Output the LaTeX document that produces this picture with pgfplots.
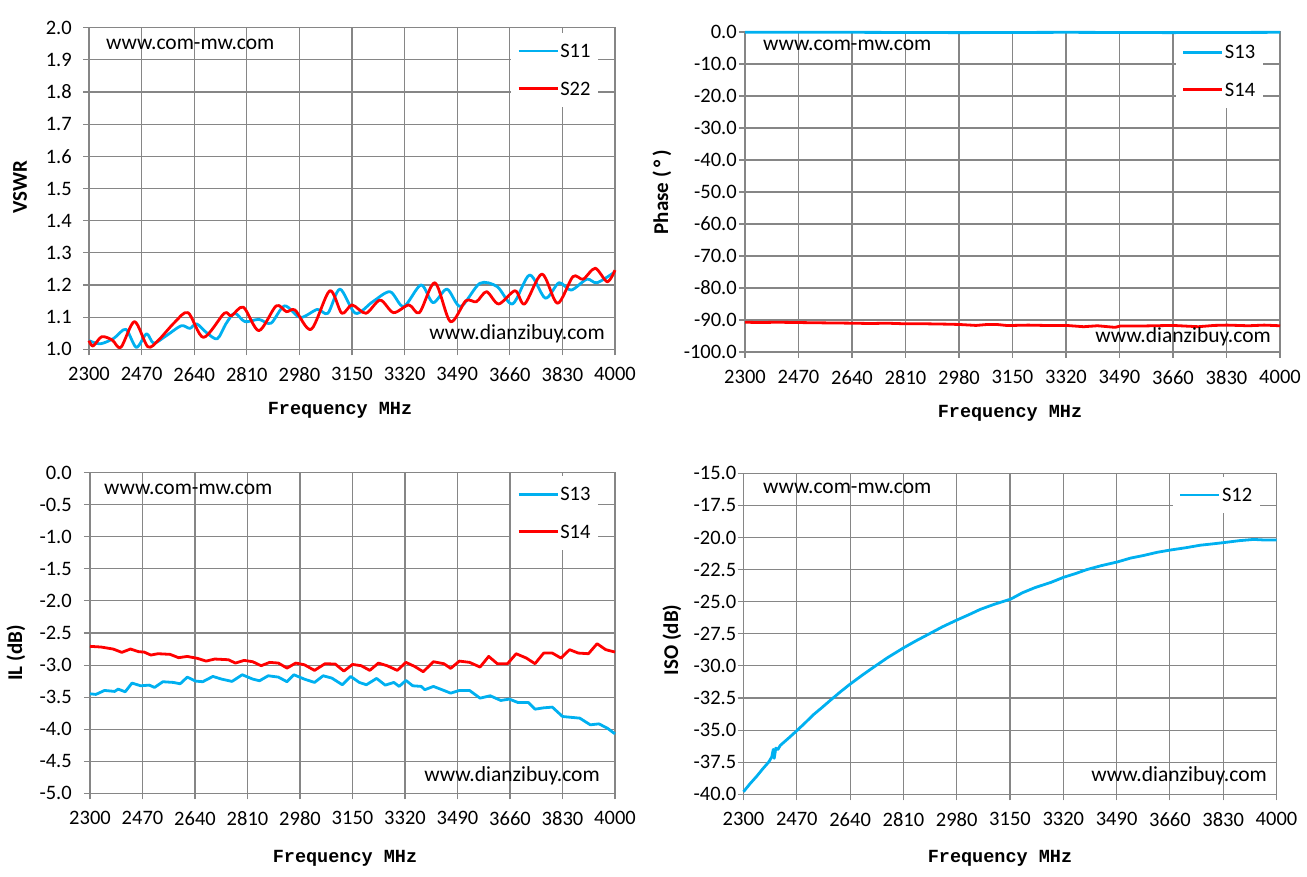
\documentclass[border=0pt]{standalone}
\usepackage{fontspec}
\setmainfont{Carlito}
\newfontfamily\monofont{Liberation Mono}
\usepackage{pgfplots}
\pgfplotsset{compat=1.18}
\definecolor{xlblue}{RGB}{0,176,240}
\definecolor{xlred}{RGB}{255,0,0}
\definecolor{gridgray}{RGB}{134,134,134}
\newcommand\wm{\fontsize{21.5}{26}\selectfont}
\newcommand\lab{\bfseries\fontsize{21}{25}\selectfont}
\newcommand\flab{\monofont\bfseries\fontsize{18.5}{22}\selectfont}
\pgfplotsset{
 panel/.style={
  scale only axis, anchor=south west,
  xmin=2300, xmax=4000,
  xtick={2300,2470,2640,2810,2980,3150,3320,3490,3660,3830,4000},
  grid=major,
  major grid style={gridgray, line width=1.1pt},
  axis line style={gridgray, line width=1.1pt},
  tick style={gridgray, line width=1.1pt},
  major tick length=6pt,
  tick align=outside,
  tick pos=left,
  scaled ticks=false,
  clip=false,
  tick label style={font=\fontsize{20.5}{24}\selectfont, inner sep=0pt, text=black},
  x tick label style={/pgf/number format/1000 sep={}, /pgf/number format/assume math mode=true, yshift=-12pt},
  y tick label style={/pgf/number format/fixed, /pgf/number format/fixed zerofill, /pgf/number format/precision=1, /pgf/number format/assume math mode=true},
  legend style={fill=white, draw=none, anchor=north east, font=\fontsize{20.5}{24}\selectfont,
    inner xsep=6pt, inner ysep=10pt, row sep=21pt, nodes={inner sep=1.5pt, text depth=0pt}},
  legend cell align=left,
  legend image code/.code={\draw[##1, line width=2.5pt] (0pt,0pt) -- (39pt,0pt);},
 },
 sline/.style={line width=2.8pt, line join=round},
}
\begin{document}
\begin{tikzpicture}
\path[use as bounding box] (0,0) rectangle (1307pt,876pt);

% ---------------- Top-left: VSWR ----------------
\begin{axis}[panel, at={(89pt,526.7pt)}, width=526pt, height=321.6pt,
  ymin=1, ymax=2, ytick={1,1.1,1.2,1.3,1.4,1.5,1.6,1.7,1.8,1.9,2},
  yticklabel style={xshift=-11pt},
  legend style={at={(axis description cs:0.968,0.984)}}]
\addplot[sline, xlblue, smooth] coordinates {
(2300,1.027)(2336,1.017)(2380,1.034)(2419,1.062)(2453,1.006)(2486,1.048)(2509,1.019)
(2548,1.041)(2598,1.073)(2626,1.065)(2648,1.079)(2682,1.05)(2715,1.033)(2743,1.08)
(2771,1.112)(2804,1.086)(2849,1.093)(2888,1.081)(2932,1.135)(2983,1.099)(3038,1.124)
(3072,1.112)(3111,1.187)(3161,1.112)(3217,1.148)(3273,1.179)(3317,1.133)(3373,1.2)
(3412,1.145)(3457,1.187)(3501,1.133)(3563,1.205)(3619,1.195)(3669,1.141)(3724,1.231)
(3775,1.159)(3819,1.207)(3858,1.184)(3909,1.218)(3942,1.207)(4000,1.241)};
\addlegendentry{S11}
\addplot[sline, xlred, smooth] coordinates {
(2300,1.027)(2313,1.010)(2341,1.039)(2375,1.029)(2403,1.006)(2447,1.086)(2490,1.008)
(2525,1.029)(2576,1.083)(2620,1.114)(2670,1.037)(2737,1.112)(2760,1.104)(2799,1.131)
(2849,1.058)(2905,1.135)(2938,1.117)(2966,1.122)(3018,1.062)(3078,1.182)(3117,1.112)
(3150,1.138)(3195,1.112)(3241,1.153)(3284,1.114)(3334,1.138)(3368,1.114)(3418,1.207)
(3468,1.086)(3518,1.151)(3552,1.148)(3585,1.179)(3624,1.141)(3677,1.182)(3708,1.141)
(3764,1.234)(3814,1.143)(3864,1.226)(3897,1.218)(3936,1.252)(3975,1.21)(4000,1.246)};
\addlegendentry{S22}
\end{axis}

% ---------------- Top-right: Phase ----------------
\begin{axis}[panel, at={(745pt,524pt)}, width=535pt, height=320pt,
  ymin=-100, ymax=0, ytick={-100,-90,-80,-70,-60,-50,-40,-30,-20,-10,0},
  yticklabel style={xshift=-2pt},
  legend style={at={(axis description cs:0.968,0.994)}}]
\addplot[sline, xlblue] coordinates {
(2300,-0.1)(2640,-0.1)(2980,-0.2)(3320,-0.1)(3660,-0.2)(4000,-0.1)};
\addlegendentry{S13}
\addplot[sline, xlred] coordinates {
(2300,-90.7)(2350,-90.8)(2400,-90.7)(2473,-90.8)(2550,-90.9)(2642,-91.0)(2700,-91.1)
(2750,-91.0)(2813,-91.2)(2880,-91.2)(2940,-91.3)(2981,-91.4)(3034,-91.7)(3070,-91.4)
(3100,-91.4)(3130,-91.7)(3152,-91.7)(3200,-91.6)(3250,-91.7)(3321,-91.7)(3376,-92.1)
(3420,-91.8)(3476,-92.3)(3492,-91.9)(3550,-91.9)(3600,-91.8)(3661,-91.7)(3700,-91.9)
(3741,-92.1)(3790,-91.7)(3831,-91.6)(3900,-91.8)(3950,-91.6)(4000,-91.8)};
\addlegendentry{S14}
\end{axis}

% ---------------- Bottom-left: IL ----------------
\begin{axis}[panel, at={(90pt,82.7pt)}, width=525pt, height=320.6pt,
  ymin=-5, ymax=0, ytick={-5,-4.5,-4,-3.5,-3,-2.5,-2,-1.5,-1,-0.5,0},
  yticklabel style={xshift=-12pt},
  legend style={at={(axis description cs:0.968,0.99)}}]
\addplot[sline, xlblue] coordinates {
(2300,-3.448)(2319,-3.458)(2347,-3.396)(2380,-3.411)(2391,-3.375)(2414,-3.417)(2436,-3.281)
(2464,-3.323)(2492,-3.313)(2509,-3.349)(2536,-3.260)(2570,-3.271)(2592,-3.292)(2615,-3.188)
(2642,-3.250)(2665,-3.260)(2698,-3.177)(2726,-3.219)(2760,-3.255)(2793,-3.151)(2827,-3.219)
(2849,-3.245)(2877,-3.167)(2910,-3.188)(2938,-3.260)(2960,-3.151)(2994,-3.219)(3027,-3.271)
(3055,-3.167)(3083,-3.203)(3117,-3.307)(3144,-3.177)(3172,-3.271)(3195,-3.307)(3228,-3.208)
(3256,-3.313)(3284,-3.271)(3301,-3.333)(3323,-3.240)(3345,-3.323)(3373,-3.333)(3384,-3.385)
(3412,-3.333)(3440,-3.385)(3468,-3.438)(3496,-3.396)(3529,-3.396)(3563,-3.516)(3596,-3.479)
(3630,-3.552)(3658,-3.531)(3685,-3.583)(3719,-3.583)(3741,-3.688)(3769,-3.667)(3797,-3.656)
(3830,-3.802)(3853,-3.813)(3886,-3.828)(3920,-3.932)(3948,-3.917)(3975,-3.984)(4000,-4.073)};
\addlegendentry{S13}
\addplot[sline, xlred] coordinates {
(2300,-2.708)(2336,-2.719)(2375,-2.750)(2403,-2.802)(2431,-2.750)(2458,-2.792)(2475,-2.797)
(2497,-2.844)(2520,-2.823)(2559,-2.833)(2587,-2.885)(2615,-2.865)(2648,-2.896)(2676,-2.938)
(2704,-2.906)(2748,-2.917)(2771,-2.969)(2799,-2.927)(2827,-2.948)(2854,-3.010)(2882,-2.958)
(2910,-2.969)(2938,-3.047)(2966,-2.969)(2994,-2.995)(3027,-3.083)(3061,-2.979)(3094,-2.984)
(3122,-3.094)(3150,-2.990)(3178,-3.010)(3206,-3.083)(3234,-2.969)(3262,-3.010)(3295,-3.083)
(3323,-2.958)(3351,-3.021)(3379,-3.104)(3412,-2.948)(3446,-2.979)(3468,-3.052)(3496,-2.938)
(3529,-2.958)(3563,-3.031)(3591,-2.865)(3619,-2.979)(3652,-2.979)(3680,-2.823)(3713,-2.891)
(3741,-2.979)(3769,-2.813)(3797,-2.813)(3825,-2.891)(3853,-2.760)(3881,-2.813)(3914,-2.823)
(3942,-2.667)(3970,-2.760)(4000,-2.797)};
\addlegendentry{S14}
\end{axis}

% ---------------- Bottom-right: ISO ----------------
\begin{axis}[panel, at={(743.5pt,81.7pt)}, width=533pt, height=321pt,
  ymin=-40, ymax=-15, ytick={-40,-37.5,-35,-32.5,-30,-27.5,-25,-22.5,-20,-17.5,-15},
  yticklabel style={xshift=-1pt},
  legend style={at={(axis description cs:0.969,0.99)}}]
\addplot[sline, xlblue] coordinates {
(2300,-39.8)(2320,-39.2)(2342,-38.6)(2362,-38.0)(2380,-37.5)(2390,-37.1)(2395,-36.5)
(2398,-37.2)(2403,-36.4)(2410,-36.5)(2417,-36.2)(2445,-35.6)(2472,-35.0)(2498,-34.4)
(2523,-33.8)(2550,-33.25)(2576,-32.7)(2610,-32.0)(2641,-31.4)(2680,-30.7)(2715,-30.1)
(2760,-29.35)(2810,-28.6)(2850,-28.05)(2885,-27.6)(2935,-26.95)(2983,-26.4)(3020,-26.0)
(3055,-25.6)(3100,-25.2)(3152,-24.8)(3190,-24.3)(3230,-23.9)(3280,-23.5)(3321,-23.1)
(3360,-22.8)(3395,-22.5)(3440,-22.2)(3493,-21.9)(3535,-21.6)(3576,-21.4)(3620,-21.15)
(3663,-20.97)(3710,-20.8)(3757,-20.6)(3795,-20.5)(3831,-20.4)(3880,-20.25)(3927,-20.15)
(3965,-20.2)(4000,-20.2)};
\addlegendentry{S12}
\end{axis}

% ---------------- Labels ----------------
\node[rotate=90, font=\lab] at (20pt,689pt) {VSWR};
\node[rotate=90, font=\lab] at (662pt,684pt) {Phase (\hspace{4pt}°\hspace{4pt})};
\node[rotate=90, font=\lab] at (16pt,223pt) {IL (dB)};
\node[rotate=90, font=\lab] at (672pt,236pt) {ISO (dB)};

\node[font=\flab] at (340pt,466pt) {Frequency MHz};
\node[font=\flab] at (1010pt,463pt) {Frequency MHz};
\node[font=\flab] at (345pt,18pt) {Frequency MHz};
\node[font=\flab] at (1000pt,18pt) {Frequency MHz};

% ---------------- Watermarks ----------------
\node[anchor=base west, inner sep=0pt, font=\wm] at (106pt,826pt) {www.com-mw.com};
\node[anchor=base east, inner sep=0pt, font=\wm] at (605pt,536pt) {www.dianzibuy.com};
\node[anchor=base west, inner sep=0pt, font=\wm] at (763pt,825pt) {www.com-mw.com};
\node[anchor=base east, inner sep=0pt, font=\wm] at (1271pt,533pt) {www.dianzibuy.com};
\node[anchor=base west, inner sep=0pt, font=\wm] at (104pt,381pt) {www.com-mw.com};
\node[anchor=base east, inner sep=0pt, font=\wm] at (600pt,94pt) {www.dianzibuy.com};
\node[anchor=base west, inner sep=0pt, font=\wm] at (763pt,382pt) {www.com-mw.com};
\node[anchor=base east, inner sep=0pt, font=\wm] at (1267pt,94pt) {www.dianzibuy.com};
\end{tikzpicture}
\end{document}
